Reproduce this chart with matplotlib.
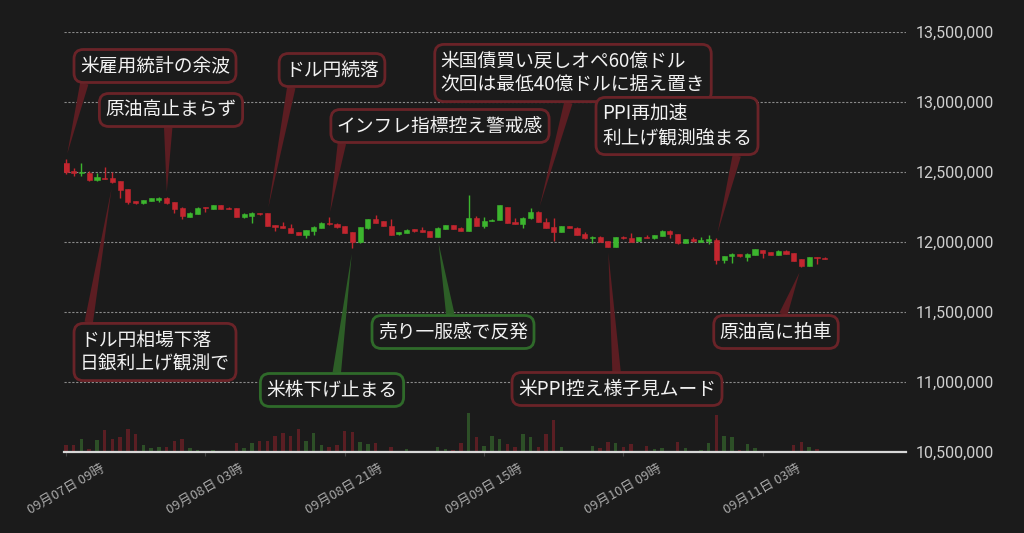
import numpy as np
import pandas as pd
import matplotlib
matplotlib.use("Agg")
from matplotlib import pyplot as plt
import matplotlib.dates as mdates

plt.rcParams['font.family'] = ['Noto Sans CJK JP', 'DejaVu Sans']

BG = '#1b1b1b'
UP = '#3cb52e'
DOWN = '#c3262f'

# hourly candles
times = pd.date_range('2024-09-07 09:00', periods=99, freq='h')

opens = [12562000, 12505000, 12493000, 12495000, 12441000, 12459000, 12457000, 12434000, 12376000, 12293000,
         12276000, 12293000, 12302000, 12314000, 12284000, 12245000, 12179000, 12202000, 12245000, 12236000,
         12264000, 12245000, 12241000, 12179000, 12184000, 12207000, 12205000, 12119000, 12112000, 12102000,
         12073000, 12050000, 12079000, 12102000, 12138000, 12131000, 12112000, 12073000, 11998000, 12098000,
         12164000, 12150000, 12114000, 12055000, 12066000, 12091000, 12084000, 12076000, 12036000, 12093000,
         12121000, 12102000, 12079000, 12171000, 12114000, 12152000, 12157000, 12250000, 12143000, 12131000,
         12169000, 12216000, 12145000, 12107000, 12071000, 12112000, 12102000, 12057000, 12026000, 12038000,
         12007000, 11966000, 12038000, 12029000, 12007000, 12038000, 12026000, 12043000, 12081000, 12057000,
         11995000, 12019000, 12002000, 12009000, 12014000, 11874000, 11902000, 11914000, 11895000, 11909000,
         11943000, 11926000, 11909000, 11938000, 11921000, 11876000, 11831000, 11891000, 11888000]
highs = [12593000, 12526000, 12562000, 12507000, 12491000, 12538000, 12502000, 12436000, 12378000, 12296000,
         12302000, 12315000, 12324000, 12318000, 12286000, 12247000, 12212000, 12247000, 12247000, 12266000,
         12266000, 12248000, 12243000, 12205000, 12211000, 12209000, 12207000, 12121000, 12141000, 12126000,
         12075000, 12086000, 12111000, 12140000, 12176000, 12133000, 12114000, 12075000, 12109000, 12164000,
         12193000, 12152000, 12162000, 12075000, 12090000, 12093000, 12107000, 12078000, 12104000, 12123000,
         12123000, 12104000, 12336000, 12188000, 12179000, 12161000, 12266000, 12252000, 12171000, 12176000,
         12241000, 12218000, 12169000, 12169000, 12114000, 12114000, 12104000, 12073000, 12040000, 12040000,
         12009000, 12038000, 12040000, 12066000, 12038000, 12052000, 12052000, 12084000, 12084000, 12059000,
         12021000, 12036000, 12034000, 12050000, 12029000, 11900000, 11918000, 11916000, 11918000, 11952000,
         11945000, 11928000, 11940000, 11940000, 11923000, 11878000, 11893000, 11893000, 11890000]
lows = [12489000, 12474000, 12474000, 12436000, 12438000, 12450000, 12419000, 12316000, 12271000, 12273000,
        12274000, 12291000, 12288000, 12274000, 12205000, 12162000, 12177000, 12200000, 12216000, 12234000,
        12236000, 12236000, 12177000, 12169000, 12134000, 12196000, 12112000, 12081000, 12098000, 12064000,
        12048000, 12029000, 12050000, 12100000, 12124000, 12103000, 12064000, 11955000, 11996000, 12096000,
        12134000, 12114000, 12050000, 12053000, 12064000, 12074000, 12069000, 12034000, 12034000, 12091000,
        12093000, 12077000, 12077000, 12112000, 12098000, 12150000, 12155000, 12136000, 12129000, 12102000,
        12167000, 12141000, 12100000, 12007000, 12069000, 12100000, 12050000, 12024000, 11991000, 12000000,
        11964000, 11964000, 12024000, 12000000, 12005000, 12029000, 12024000, 12041000, 12031000, 11989000,
        11993000, 12003000, 12000000, 11984000, 11843000, 11852000, 11852000, 11896000, 11866000, 11907000,
        11888000, 11907000, 11907000, 11914000, 11864000, 11819000, 11829000, 11843000, 11877000]
closes = [12498000, 12495000, 12502000, 12441000, 12462000, 12452000, 12429000, 12371000, 12288000, 12276000,
          12300000, 12312000, 12316000, 12276000, 12236000, 12184000, 12209000, 12245000, 12241000, 12264000,
          12238000, 12238000, 12179000, 12198000, 12209000, 12198000, 12114000, 12107000, 12100000, 12066000,
          12050000, 12084000, 12109000, 12138000, 12126000, 12105000, 12066000, 12000000, 12107000, 12162000,
          12136000, 12116000, 12052000, 12073000, 12088000, 12076000, 12071000, 12036000, 12102000, 12121000,
          12095000, 12079000, 12171000, 12114000, 12152000, 12159000, 12264000, 12138000, 12131000, 12174000,
          12212000, 12143000, 12102000, 12071000, 12112000, 12102000, 12052000, 12026000, 12038000, 12002000,
          11966000, 12036000, 12026000, 12002000, 12036000, 12031000, 12050000, 12081000, 12057000, 11991000,
          12019000, 12005000, 12014000, 12019000, 11874000, 11898000, 11916000, 11898000, 11916000, 11950000,
          11921000, 11909000, 11938000, 11916000, 11866000, 11831000, 11891000, 11884000, 11879000]
volumes = [73, 73, 133, 33, 120, 217, 127, 147, 230, 180,
           67, 37, 47, 53, 107, 127, 37, 20, 13, 23,
           5, 5, 87, 37, 87, 110, 110, 157, 193, 157,
           227, 107, 187, 67, 53, 67, 210, 197, 97, 80,
           87, 5, 53, 13, 27, 5, 5, 13, 47, 30,
           23, 93, 393, 147, 63, 163, 127, 80, 47, 180,
           147, 53, 180, 317, 47, 13, 7, 13, 57, 37,
           97, 87, 47, 83, 13, 57, 27, 37, 5, 100,
           40, 13, 17, 87, 373, 157, 150, 20, 80, 40,
           13, 5, 5, 13, 67, 100, 47, 27, 7]

# annotations: text, candle index, which end, box centre (image px), arrow start (rel. to box), colour
ann_texts = ['米雇用統計の余波', '原油高止まらず', 'ドル円続落', 'インフレ指標控え警戒感',
             '米国債買い戻しオペ60億ドル\n次回は最低40億ドルに据え置き', 'PPI再加速\n利上げ観測強まる',
             'ドル円相場下落\n日銀利上げ観測で', '米株下げ止まる', '売り一服感で反発',
             '米PPI控え様子見ムード', '原油高に拍車']
ann_idx = [0, 13, 26, 34, 61, 84, 6, 37, 48, 70, 95]
ann_side = ['high', 'high', 'high', 'high', 'high', 'high', 'low', 'low', 'low', 'low', 'low']
ann_box = [(155, 66), (171, 110), (332, 70), (440, 126), (573, 73), (677, 126),
           (155, 352), (332, 390), (453, 332), (617, 389), (776, 332)]
ann_rel = [(0.04, 0), (0.48, 0), (0.08, 0), (0.03, 0), (0.49, 0), (0.91, 0),
           (0.05, 1), (0.53, 1), (0.49, 1), (0.5, 1), (0.54, 1)]
ann_kind = ['down', 'down', 'down', 'down', 'down', 'down', 'down', 'up', 'up', 'down', 'down']

W, H = 1024, 533
fig = plt.figure(figsize=(W / 100, H / 100), dpi=100, facecolor=BG)
rect = [64.3 / W, (H - 452) / H, (906 - 64.3) / W, 420 / H]
axv = fig.add_axes(rect)
ax = fig.add_axes(rect, sharex=axv)
axv.set_facecolor(BG)
ax.patch.set_alpha(0)

t = mdates.date2num(times.to_pydatetime())
o = np.array(opens); h = np.array(highs); l = np.array(lows); c = np.array(closes)
up = c >= o
cols = np.where(up, UP, DOWN)
hour = 1 / 24

# volume
vcols = np.where(up, '#2d4f27', '#5a1e23')
axv.bar(t, volumes, width=0.45 * hour, color=vcols, linewidth=0)
axv.set_ylim(0, 4200)
axv.axis('off')

# candles
ax.vlines(t, l, h, colors=cols, linewidth=1.0, zorder=3)
body = np.maximum(np.abs(c - o), 6000)
ax.bar(t, body, bottom=np.minimum(o, c), width=0.66 * hour, color=cols,
       edgecolor=cols, linewidth=0.4, zorder=4)

ax.set_xlim(t[0] - 0.22 * hour, t[0] + 108.5 * hour)
ax.set_ylim(10500000, 13500000)
yt = np.arange(10500000, 13500001, 500000)
ax.set_yticks(yt)
ax.set_yticklabels(['{:,.0f}'.format(v) for v in yt], family=['Roboto', 'DejaVu Sans'])
ax.yaxis.tick_right()
ax.tick_params(axis='y', length=0, pad=7, labelcolor='#cfcfcf', labelsize=11.5)
ax.yaxis.grid(True, color='#8a8a8a', linestyle=(0, (2, 1.5)), linewidth=0.8)
ax.set_axisbelow(True)

xt = t[::18]
ax.set_xticks(xt)
ax.set_xticklabels([d.strftime('%m月%d日 %H時') for d in times[::18]], rotation=30, ha='center')
ax.tick_params(axis='x', length=3, color='#444444', labelcolor='#a8a8a8', labelsize=9.5, pad=4)

for s in ['top', 'left', 'right']:
    ax.spines[s].set_visible(False)
ax.spines['bottom'].set_color('#d8d8d8')
ax.spines['bottom'].set_linewidth(1.6)
ax.spines['bottom'].set_zorder(6)

for txt, i, side, (bx, by), rp, kind in zip(ann_texts, ann_idx, ann_side, ann_box, ann_rel, ann_kind):
    y = h[i] if side == 'high' else l[i]
    if kind == 'up':
        edge, wedge = '#2f6a2a', '#2d5e27'
    else:
        edge, wedge = '#6a2328', '#5c1d22'
    ax.annotate(txt, xy=(t[i], y), xytext=(bx, H - by), textcoords='figure pixels',
                ha='center', va='center', fontsize=13.5, color='#f2f2f2', multialignment='left',
                bbox=dict(boxstyle='round,pad=0.32,rounding_size=0.5', fc=BG, ec=edge, lw=2),
                arrowprops=dict(arrowstyle='wedge,tail_width=0.45,shrink_factor=0.5',
                                fc=wedge, ec='none', relpos=rp, shrinkA=0, shrinkB=4),
                zorder=7, annotation_clip=False)

fig.savefig('out.png', dpi=100, facecolor=BG)
